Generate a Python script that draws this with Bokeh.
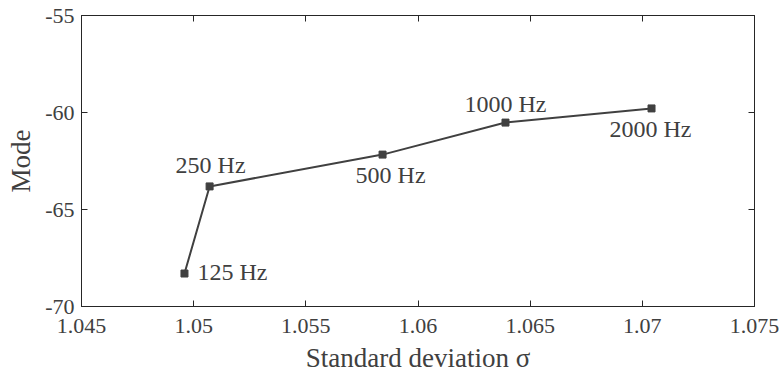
from bokeh.plotting import figure
from bokeh.models import ColumnDataSource, LinearAxis, FixedTicker, Range1d
from bokeh.core.properties import value
from bokeh.embed import file_html
from bokeh.resources import INLINE

# Data
sigma = [1.04959, 1.05071, 1.05842, 1.06390, 1.07041]
mode = [-68.30, -63.81, -62.17, -60.52, -59.79]
freq_labels = ["125 Hz", "250 Hz", "500 Hz", "1000 Hz", "2000 Hz"]

x_ticks = [1.045, 1.05, 1.055, 1.06, 1.065, 1.07, 1.075]
x_tick_labels = ["1.045", "1.05", "1.055", "1.06", "1.065", "1.07", "1.075"]
y_ticks = [-70, -65, -60, -55]
y_tick_labels = ["-70", "-65", "-60", "-55"]

FONT = "Liberation Serif"
LINE = "#404040"
TXT = "#404040"

p = figure(width=784, height=378, output_backend="svg", toolbar_location=None,
           x_range=Range1d(1.045, 1.075), y_range=Range1d(-70, -55),
           min_border_left=81, min_border_right=30, min_border_top=15, min_border_bottom=72,
           x_axis_label="Standard deviation σ", y_axis_label="Mode")
p.grid.visible = False
p.outline_line_color = "#262626"
p.outline_line_width = 1
p.background_fill_color = "white"
p.border_fill_color = "white"

for ax, ticks, labels in [(p.xaxis[0], x_ticks, x_tick_labels), (p.yaxis[0], y_ticks, y_tick_labels)]:
    ax.ticker = FixedTicker(ticks=ticks)
    ax.major_label_overrides = {t: l for t, l in zip(ticks, labels)}
    ax.major_tick_in = 6
    ax.major_tick_out = 0
    ax.minor_tick_in = 0
    ax.minor_tick_out = 0
    ax.axis_line_color = "#262626"
    ax.major_tick_line_color = "#262626"
    ax.major_label_text_font = FONT
    ax.major_label_text_font_size = "22px"
    ax.major_label_text_color = TXT
    ax.axis_label_text_font = FONT
    ax.axis_label_text_font_size = "27px"
    ax.axis_label_text_font_style = "normal"
    ax.axis_label_text_color = TXT

p.xaxis[0].major_label_standoff = 12
p.xaxis[0].axis_label_standoff = 7
p.yaxis[0].major_label_standoff = 7
p.yaxis[0].axis_label_standoff = 6

for loc, ticks in [("right", y_ticks), ("above", x_ticks)]:
    a = LinearAxis(ticker=FixedTicker(ticks=ticks), major_tick_in=6, major_tick_out=0,
                   minor_tick_in=0, minor_tick_out=0,
                   major_label_overrides={t: "" for t in ticks},
                   major_label_standoff=0, axis_line_color="#262626",
                   major_tick_line_color="#262626")
    p.add_layout(a, loc)

src = ColumnDataSource(dict(x=sigma, y=mode, label=freq_labels,
                            xo=[13, 1, 8, 0, -1], yo=[-2, -21, 20, -19, 21],
                            align=["left", "center", "center", "center", "center"]))

p.line("x", "y", source=src, line_color=LINE, line_width=2)
p.scatter("x", "y", source=src, marker="square", size=7, fill_color=LINE, line_color=LINE)
p.text("x", "y", text="label", source=src, x_offset="xo", y_offset="yo",
       text_align="align", text_baseline="middle", text_font=value(FONT),
       text_font_size="24px", text_color=TXT)

open("out.html", "w").write(file_html(p, INLINE))
